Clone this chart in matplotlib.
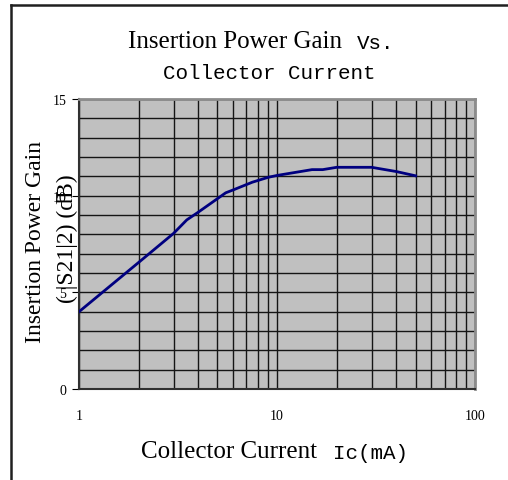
import matplotlib
matplotlib.use('Agg')
import matplotlib.pyplot as plt
from matplotlib.lines import Line2D
from matplotlib.ticker import FixedLocator, NullFormatter

# collector current (mA) and insertion power gain |S21|^2 (dB)
ic_ma = [1, 2, 3, 3.5, 4, 5, 5.5, 6, 7.5, 9, 10, 15, 17, 20, 30, 40, 50]
gain_db = [4.0, 6.55, 8.05, 8.75, 9.15, 9.85, 10.15, 10.3, 10.7, 10.95, 11.05,
           11.35, 11.35, 11.47, 11.47, 11.25, 11.03]

x_ticks = [1, 10, 100]
x_tick_labels = ['1', '10', '100']
y_ticks = [0, 5, 10, 15]
y_tick_labels = ['0', '5', '10', '15']

serif = 'Liberation Serif'
mono = 'Liberation Mono'

fig = plt.figure(figsize=(5.08, 4.81), dpi=100)
ax = fig.add_axes([0.1555, 0.189, 0.78, 0.603])
ax.set_facecolor('#c0c0c0')

ax.plot(ic_ma, gain_db, color='#000080', linewidth=2, zorder=3)

ax.set_xscale('log')
ax.set_xlim(1, 100)
ax.set_ylim(0, 15)

# grid: every integer on the log axis, every dB on the gain axis
minor_x = [m * d for d in (1, 10) for m in range(2, 10)]
ax.xaxis.set_major_locator(FixedLocator(x_ticks))
ax.xaxis.set_minor_locator(FixedLocator(minor_x))
ax.xaxis.set_minor_formatter(NullFormatter())
ax.set_xticklabels(x_tick_labels, fontfamily=serif, fontsize=10)
ax.set_yticks(y_ticks)
ax.set_yticks(range(0, 16), minor=True)
ax.set_yticklabels(y_tick_labels, fontfamily=serif, fontsize=10)

ax.grid(True, which='both', color='#151515', linewidth=1)
ax.tick_params(axis='x', which='both', length=0, pad=14)
ax.tick_params(axis='y', which='major', length=5, direction='out', pad=4)
ax.tick_params(axis='y', which='minor', length=0)

for side in ('top', 'right'):
    ax.spines[side].set_color('#8c8c8c')
    ax.spines[side].set_linewidth(2)
for side in ('left', 'bottom'):
    ax.spines[side].set_color('#303030')
    ax.spines[side].set_linewidth(1.5)

# titles
fig.text(0.463, 0.913, 'Insertion Power Gain', fontfamily=serif, fontsize=18,
         ha='center', va='center')
fig.text(0.703, 0.909, 'Vs.', fontfamily=mono, fontsize=15,
         ha='left', va='center')
fig.text(0.531, 0.848, 'Collector Current', fontfamily=mono, fontsize=15,
         ha='center', va='center')

# axis labels
fig.text(0.451, 0.06, 'Collector Current', fontfamily=serif, fontsize=18,
         ha='center', va='center')
fig.text(0.655, 0.057, 'Ic(mA)', fontfamily=mono, fontsize=15,
         ha='left', va='center')
fig.text(0.069, 0.496, 'Insertion Power Gain', fontfamily=serif, fontsize=17,
         rotation=90, ha='center', va='center')
fig.text(0.133, 0.503, '( |S21|2) (dB)', fontfamily=serif, fontsize=17,
         rotation=90, ha='center', va='center')

# frame around the chart (top and left edges only)
fig.add_artist(Line2D([11 / 508, 1.0], [1 - 6 / 481, 1 - 6 / 481],
                      transform=fig.transFigure, color='#202020', linewidth=1.8))
fig.add_artist(Line2D([11 / 508, 11 / 508], [0.0, 1 - 6 / 481],
                      transform=fig.transFigure, color='#202020', linewidth=1.8))

fig.savefig('out.png', dpi=100)
